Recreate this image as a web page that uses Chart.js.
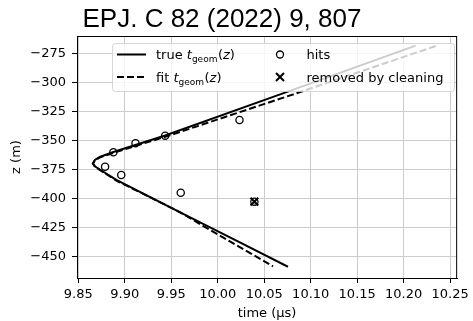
<!DOCTYPE html>
<html>
<head>
<meta charset="utf-8">
<script src="https://cdn.jsdelivr.net/npm/chart.js@4"></script>
<style>
  html, body { margin: 0; padding: 0; background: #fff; }
</style>
</head>
<body>
<canvas id="myChart" width="473" height="321"></canvas>
<script>
const titleText = 'EPJ. C 82 (2022) 9, 807';
const xTitle = 'time (\u03bcs)';
const yTitle = 'z (m)';

const xTicks = [9.85, 9.90, 9.95, 10.00, 10.05, 10.10, 10.15, 10.20, 10.25];
const yTicks = [-450, -425, -400, -375, -350, -325, -300, -275];

// true t_geom(z)
const trueT = [10.2128, 10.0701, 9.9434, 9.8877, 9.8731, 9.8678, 9.8657, 9.8678, 9.8731, 9.8909, 9.9580, 10.0222, 10.0755];
const trueZ = [-268.4, -309.6, -345.9, -360.1, -364.4, -367.0, -369.9, -372.5, -375.2, -384.2, -411.4, -437.4, -459.0];

// fit t_geom(z), dashed curve
const fitT = [10.2345, 10.0879, 9.9477, 9.8877, 9.8731, 9.8678, 9.8657, 9.8678, 9.8731, 9.8909, 9.9580, 10.0009, 10.0595];
const fitZ = [-268.7, -308.6, -345.9, -360.8, -364.8, -367.4, -370.0, -372.6, -375.6, -384.7, -411.4, -431.6, -458.6];

// hits
const hitT = [9.8877, 9.9115, 9.9434, 9.8788, 9.8962, 10.0234, 9.9602, 10.0394];
const hitZ = [-360.3, -352.6, -346.0, -372.8, -379.9, -332.5, -395.2, -402.9];

// removed by cleaning
const cleanT = [10.0394];
const cleanZ = [-402.9];

const legendLabels = ['true', 'fit', 'hits', 'removed by cleaning'];

function toPoints(xs, ys) {
    return xs.map(function(x, i) { return {x: x, y: ys[i]}; });
}

const FONT = '"DejaVu Sans", sans-serif';

// draws "<prefix> t_geom(z)" in matplotlib mathtext style
function drawMathLabel(ctx, x, y, prefix) {
    ctx.fillStyle = '#000';
    ctx.textBaseline = 'alphabetic';
    ctx.textAlign = 'left';
    ctx.font = '13px ' + FONT;
    ctx.fillText(prefix + ' ', x, y);
    x += ctx.measureText(prefix + ' ').width;
    ctx.font = 'italic 13px ' + FONT;
    ctx.fillText('t', x, y);
    x += ctx.measureText('t').width;
    ctx.font = '9px ' + FONT;
    ctx.fillText('geom', x, y + 3);
    x += ctx.measureText('geom').width + 0.5;
    ctx.font = '13px ' + FONT;
    ctx.fillText('(', x, y);
    x += ctx.measureText('(').width;
    ctx.font = 'italic 13px ' + FONT;
    ctx.fillText('z', x, y);
    x += ctx.measureText('z').width;
    ctx.font = '13px ' + FONT;
    ctx.fillText(')', x, y);
}

const framePlugin = {
    id: 'frameAndLegend',
    afterDatasetsDraw(chart) {
        const ctx = chart.ctx;
        const ca = chart.chartArea;
        ctx.save();
        // spines
        ctx.strokeStyle = '#000';
        ctx.lineWidth = 1;
        ctx.strokeRect(ca.left + 0.5, ca.top + 0.5, ca.right - ca.left - 1, ca.bottom - ca.top);

        // legend box (semi transparent like matplotlib)
        const bx = 112.5, by = 43.5, bw = 342, bh = 48;
        ctx.beginPath();
        ctx.roundRect(bx, by, bw, bh, 3);
        ctx.fillStyle = 'rgba(255,255,255,0.8)';
        ctx.fill();
        ctx.strokeStyle = 'rgba(204,204,204,0.8)';
        ctx.lineWidth = 1;
        ctx.stroke();

        const r1 = 54.5, r2 = 77;
        // solid handle
        ctx.strokeStyle = '#000';
        ctx.lineWidth = 2;
        ctx.beginPath();
        ctx.moveTo(117, r1); ctx.lineTo(146, r1);
        ctx.stroke();
        // dashed handle
        ctx.setLineDash([7, 3]);
        ctx.beginPath();
        ctx.moveTo(117, r2); ctx.lineTo(146, r2);
        ctx.stroke();
        ctx.setLineDash([]);

        drawMathLabel(ctx, 156, r1 + 4.5, legendLabels[0]);
        drawMathLabel(ctx, 156, r2 + 4.5, legendLabels[1]);

        // circle marker
        ctx.lineWidth = 1.3;
        ctx.beginPath();
        ctx.arc(280, r1, 3.5, 0, Math.PI * 2);
        ctx.stroke();
        // x marker
        ctx.lineWidth = 2;
        ctx.beginPath();
        ctx.moveTo(276, r2 - 4); ctx.lineTo(284, r2 + 4);
        ctx.moveTo(276, r2 + 4); ctx.lineTo(284, r2 - 4);
        ctx.stroke();

        ctx.fillStyle = '#000';
        ctx.font = '13px ' + FONT;
        ctx.textBaseline = 'alphabetic';
        ctx.fillText(legendLabels[2], 306.5, r1 + 4.5);
        ctx.fillText(legendLabels[3], 306.5, r2 + 4.5);
        ctx.restore();
    },
    afterDraw(chart) {
        const ctx = chart.ctx;
        ctx.save();
        ctx.fillStyle = '#000';
        ctx.font = '26px "Liberation Sans", Arial, sans-serif';
        ctx.textBaseline = 'alphabetic';
        ctx.textAlign = 'left';
        ctx.fillText(titleText, 82.5, 26.5);
        ctx.restore();
    }
};

var chart = new Chart('myChart', {
    type: 'scatter',
    data: {
        datasets: [
            {
                label: 'true t_geom(z)',
                data: toPoints(trueT, trueZ),
                showLine: true,
                borderColor: '#000',
                borderWidth: 2,
                pointRadius: 0,
                fill: false,
                order: 3
            },
            {
                label: 'fit t_geom(z)',
                data: toPoints(fitT, fitZ),
                showLine: true,
                borderColor: '#000',
                borderWidth: 2,
                borderDash: [7, 3],
                pointRadius: 0,
                fill: false,
                order: 2
            },
            {
                label: 'hits',
                data: toPoints(hitT, hitZ),
                pointStyle: 'circle',
                pointRadius: 3.6,
                borderColor: '#000',
                borderWidth: 1.3,
                backgroundColor: 'rgba(0,0,0,0)',
                order: 1
            },
            {
                label: 'removed by cleaning',
                data: toPoints(cleanT, cleanZ),
                pointStyle: 'crossRot',
                pointRadius: 5.5,
                borderColor: '#000',
                borderWidth: 2,
                order: 0
            }
        ]
    },
    options: {
        responsive: false,
        animation: false,
        devicePixelRatio: 1,
        layout: { padding: { top: 36, right: 12, left: 0, bottom: 0 } },
        plugins: {
            legend: { display: false },
            tooltip: { enabled: false }
        },
        scales: {
            x: {
                type: 'linear',
                min: 9.8486,
                max: 10.2575,
                afterBuildTicks: function(s) { s.ticks = xTicks.map(function(v) { return {value: v}; }); },
                afterFit: function(s) { s.height = 43; },
                ticks: {
                    callback: function(v) { return Number(v).toFixed(2); },
                    font: { family: FONT, size: 13 },
                    color: '#000',
                    padding: 4,
                    maxRotation: 0,
                    autoSkip: false
                },
                grid: { color: '#cccccc', lineWidth: 1, tickColor: '#000', tickLength: 5 },
                border: { color: '#000', width: 1 },
                title: {
                    display: true,
                    text: xTitle,
                    font: { family: FONT, size: 13 },
                    color: '#000',
                    padding: { top: 3, bottom: 0 }
                }
            },
            y: {
                type: 'linear',
                min: -468.7,
                max: -260.1,
                afterBuildTicks: function(s) { s.ticks = yTicks.map(function(v) { return {value: v}; }); },
                afterFit: function(s) { s.width = 77; },
                ticks: {
                    callback: function(v) { return (v < 0 ? '\u2212' : '') + Math.abs(v); },
                    font: { family: FONT, size: 13 },
                    color: '#000',
                    padding: 6
                },
                grid: { color: '#cccccc', lineWidth: 1, tickColor: '#000', tickLength: 5 },
                border: { color: '#000', width: 1 },
                title: {
                    display: true,
                    text: yTitle,
                    font: { family: FONT, size: 13 },
                    color: '#000',
                    padding: { top: 9, bottom: 0 }
                }
            }
        }
    },
    plugins: [framePlugin]
});
</script>
</body>
</html>
